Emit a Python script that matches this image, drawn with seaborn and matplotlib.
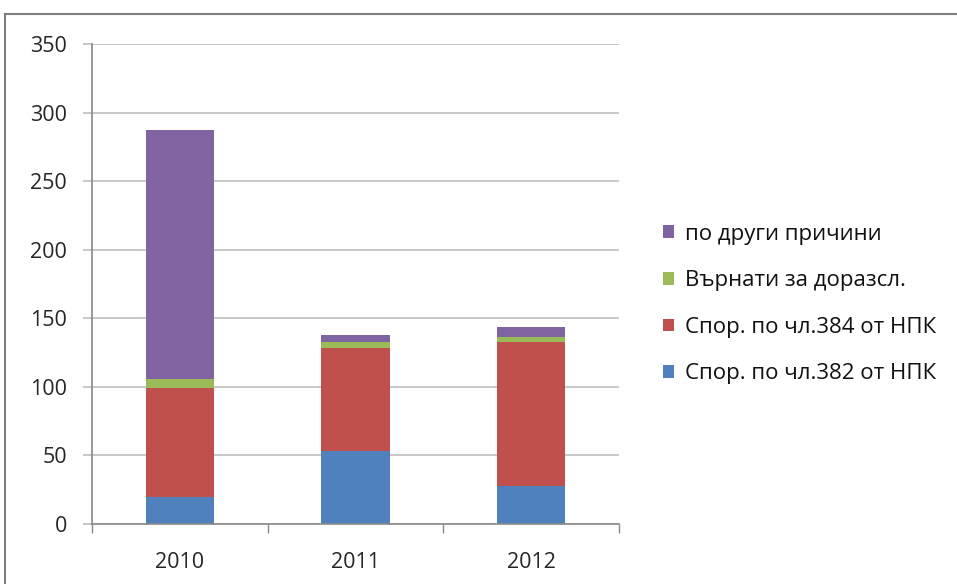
import matplotlib
matplotlib.use("Agg")
import matplotlib.pyplot as plt
import seaborn as sns
import numpy as np
import pandas as pd
from matplotlib.patches import Rectangle, Patch

years = ["2010", "2011", "2012"]
spor382 = [20, 53, 28]
spor384 = [79, 75, 105]
varnati = [7, 5, 3]
drugi = [181, 5, 8]

series_names = ["Спор. по чл.382 от НПК", "Спор. по чл.384 от НПК",
                "Върнати за доразсл.", "по други причини"]
series_vals = [spor382, spor384, varnati, drugi]
colors = ["#4F81BD", "#C0504D", "#9BBB59", "#8064A2"]

sns.set_theme(style="white")
plt.rcParams['font.family'] = ['Open Sans', 'DejaVu Sans']

fig = plt.figure(figsize=(9.57, 5.84), dpi=100)
ax = fig.add_axes([92/957, 1-524/584, (619-92)/957, (524-44)/584])

bottom = np.zeros(len(years))
for name, vals, c in zip(series_names, series_vals, colors):
    df = pd.DataFrame({"year": years, "v": vals})
    sns.barplot(data=df, x="year", y="v", color=c, width=0.39, bottom=bottom,
                ax=ax, saturation=1, errorbar=None, linewidth=0)
    bottom = bottom + np.array(vals)

ax.set_ylim(0, 350)
ax.set_xlim(-0.5, 2.5)
ax.set_yticks(range(0, 351, 50))
ax.set_xlabel("")
ax.set_ylabel("")
ax.yaxis.grid(True, color="#BFBFBF", linewidth=1.2)
ax.set_axisbelow(True)
for s in ["top", "right"]:
    ax.spines[s].set_visible(False)
ax.spines["left"].set_color("#8C8C8C")
ax.spines["bottom"].set_color("#8C8C8C")
ax.tick_params(axis="y", left=True, length=6.5, color="#BFBFBF", width=1.2,
               labelsize=15.5, pad=11.5, labelcolor="#262626")
ax.tick_params(axis="x", bottom=False, labelsize=15.5, pad=14, labelcolor="#262626")
ax.set_xticks([0, 1, 2])
ax.set_xticklabels(years)
# category boundary tick marks
ax.set_xticks([-0.5, 0.5, 1.5, 2.5], minor=True)
ax.tick_params(axis="x", which="minor", bottom=True, length=6.5, color="#8C8C8C")

handles = [Patch(facecolor=c, edgecolor="none") for c in colors][::-1]
labels = series_names[::-1]
fig.legend(handles, labels, loc="center left", bbox_to_anchor=(643/957, 1-304/584),
           frameon=False, fontsize=16, handlelength=0.5, handleheight=0.5,
           handletextpad=0.5, labelspacing=1.15, labelcolor="#111111")

fig.patches.append(Rectangle((5/957, -0.1), 1.2, 1 - 14/584 + 0.1, transform=fig.transFigure,
                             fill=False, edgecolor="#7F7F7F", linewidth=1.5))

fig.savefig("out.png", dpi=100)
